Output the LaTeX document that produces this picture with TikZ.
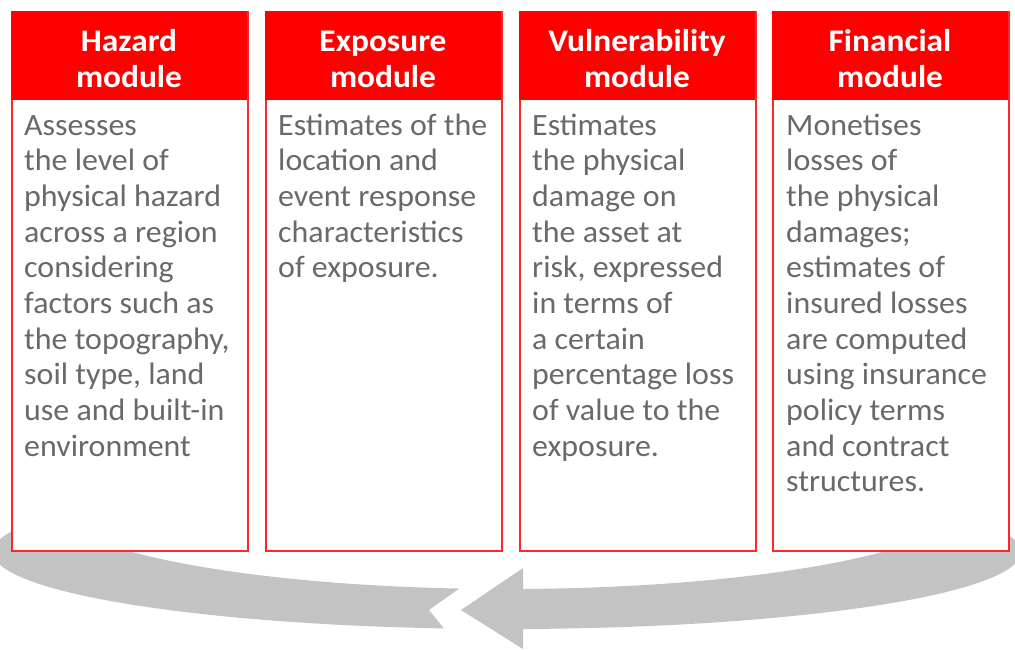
\documentclass[tikz,border=0pt]{standalone}
\usepackage{fontspec}
\setmainfont{Carlito}[FakeStretch=1.03]
\newfontfamily\hdrfont{Carlito}[FakeStretch=1.06]
\definecolor{modred}{RGB}{255,0,0}
\definecolor{edgered}{RGB}{255,40,40}
\definecolor{bodygrey}{RGB}{105,105,105}
\definecolor{ringgrey}{RGB}{195,195,195}
\tikzset{
  colbox/.style={draw=edgered, line width=1.6pt, fill=white, minimum width=236pt,
    minimum height=539pt, inner sep=0pt, anchor=north west},
  hdrbox/.style={fill=modred, minimum width=236pt, minimum height=89pt,
    inner sep=0pt, anchor=north west},
  hdrtext/.style={text=white, font=\hdrfont\bfseries\fontsize{31.5}{35.5}\selectfont,
    align=center, inner sep=0pt, anchor=north},
  bodytext/.style={text=bodygrey, font=\fontsize{31}{35.67}\selectfont,
    align=left, inner sep=0pt, anchor=north west},
}
\newcommand{\firstline}{\rule{0pt}{25pt}}
\newcommand{\hdrline}{\rule{0pt}{25pt}}
\begin{document}
\begin{tikzpicture}[x=1pt, y=-1pt]
  \useasboundingbox (0,0) rectangle (1015,649);
  % grey cycle arrow running behind the modules: tail part (left)
  \begin{scope}
    \clip (-20,520) -- (460,520) -- (460,588) -- (429,610) -- (455,642) -- (-20,642) -- cycle;
    \fill[ringgrey, even odd rule] (507,552) ellipse [x radius=514, y radius=77]
                                   (507,501) ellipse [x radius=460, y radius=88];
  \end{scope}
  % shaft on the right
  \begin{scope}
    \clip (522.5,520) -- (1040,520) -- (1040,660) -- (522.5,660) -- cycle;
    \fill[ringgrey, even odd rule] (507,552) ellipse [x radius=514, y radius=77]
                                   (507,501) ellipse [x radius=460, y radius=88];
  \end{scope}
  % arrow head
  \fill[ringgrey] (523,568) coordinate (headtop) -- (461,610) coordinate (headtip)
                  -- (523,649) coordinate (headbot) -- cycle;

  % module columns
  \node[colbox] (b1) at (11,11) {};
  \node[colbox] (b2) at (265,11) {};
  \node[colbox] (b3) at (519,11) {};
  \node[colbox] (b4) at (772,11) {};
  \node[hdrbox] (h1) at (11,11) {};
  \node[hdrbox] (h2) at (265,11) {};
  \node[hdrbox] (h3) at (519,11) {};
  \node[hdrbox] (h4) at (772,11) {};

  \node[hdrtext] (ht1) at (129,26.5) {\hdrline Hazard\\module};
  \node[hdrtext] (ht2) at (383,26.5) {\hdrline Exposure\\module};
  \node[hdrtext] (ht3) at (637,26.5) {\hdrline Vulnerability\\module};
  \node[hdrtext] (ht4) at (890,26.5) {\hdrline Financial\\module};

  \node[bodytext] (t1) at (24,110) {\firstline Assesses\\the level of\\physical hazard\\across a region\\considering\\factors such as\\the topography,\\soil type, land\\use and built-in\\environment};
  \node[bodytext] (t2) at (278,110) {\firstline Estimates of the\\location and\\event response\\characteristics\\of exposure.};
  \node[bodytext] (t3) at (532,110) {\firstline Estimates\\the physical\\damage on\\the asset at\\risk, expressed\\in terms of\\a certain\\percentage loss\\of value to the\\exposure.};
  \node[bodytext] (t4) at (786,110) {\firstline Monetises\\losses of\\the physical\\damages;\\estimates of\\insured losses\\are computed\\using insurance\\policy terms\\and contract\\structures.};
\end{tikzpicture}
\end{document}
